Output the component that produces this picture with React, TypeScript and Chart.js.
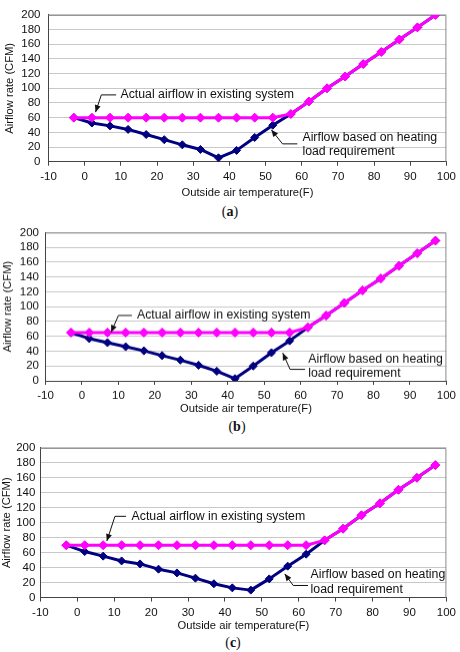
import React, { useEffect, useRef } from "react";
import { Chart, registerables } from "chart.js";

Chart.register(...registerables);

// Outside air temperature (°F) at which each airflow value was computed
const temperatures = [-3, 2, 7, 12, 17, 22, 27, 32, 37, 42, 47, 52, 57, 62, 67, 72, 77, 82, 87, 92, 97];

const xTicks = [-10, 0, 10, 20, 30, 40, 50, 60, 70, 80, 90, 100];
const yTicks = [0, 20, 40, 60, 80, 100, 120, 140, 160, 180, 200];

// Case (a)
const actualA = [60, 60, 60, 60, 60, 60, 60, 60, 60, 60, 60, 60, 65, 82, 100, 116, 133, 149.5, 166.5, 183, 200];
const requiredA = [60, 52.7, 48.8, 44, 37, 30, 23, 16.7, 5.3, 15.4, 33, 49.7, 65, 82, 100, 116, 133, 149.5, 166.5, 183, 200];

// Case (b)
const actualB = [65, 65, 65, 65, 65, 65, 65, 65, 65, 65, 65, 65, 65, 72, 88, 105, 122, 138, 155, 172, 189];
const requiredB = [65, 57, 51.5, 46, 40.5, 34, 28, 21, 13, 3, 20, 38, 54, 72, 88, 105, 122, 138, 155, 172, 189];

// Case (c)
const actualC = [70, 70, 70, 70, 70, 70, 70, 70, 70, 70, 70, 70, 70, 70, 76.5, 92, 110, 126, 144, 160, 177];
const requiredC = [70, 61.5, 55.4, 49, 45, 38, 33, 26, 18.5, 13, 10, 25, 42, 58, 76.5, 92, 110, 126, 144, 160, 177];

const actualLabel = "Actual airflow in existing system";
const requiredLabel = ["Airflow based on heating", "load requirement"];

type Pt = [number, number];
type Note = { lines: string[]; at: Pt; arrow: Pt[] };

type PanelSpec = {
  caption: string;
  actual: number[];
  required: number[];
  notes: Note[];
  // layout (px)
  top: number;
  height: number;
  axisLeft: number;
  rightPad: number;
  xAxisHeight: number;
  yLabelPad: number;
  yTitlePad: number;
  captionTop: number;
  captionX: number;
};

const FONT = "'Liberation Sans', Arial, sans-serif";

const panels: PanelSpec[] = [
  {
    caption: "a",
    actual: actualA,
    required: requiredA,
    notes: [
      { lines: [actualLabel], at: [9.9, 91], arrow: [[8.7, 91], [4.6, 91], [3.0, 67.5]] },
      { lines: requiredLabel, at: [60.2, 33], arrow: [[58.8, 24.3], [54.7, 24.3], [51.6, 43.5]] },
    ],
    top: 0,
    height: 200,
    axisLeft: 48.5,
    rightPad: 13.3,
    xAxisHeight: 38.3,
    yLabelPad: 8,
    yTitlePad: 3.3,
    captionTop: 212,
    captionX: 230,
  },
  {
    caption: "b",
    actual: actualB,
    required: requiredB,
    notes: [
      { lines: [actualLabel], at: [15.1, 88.1], arrow: [[13.7, 88.1], [10.0, 88.1], [8.0, 65.5]] },
      { lines: requiredLabel, at: [62.1, 29.6], arrow: [[61.2, 15.5], [57.1, 15.5], [55.1, 37.5]] },
    ],
    top: 219.3,
    height: 196.4,
    axisLeft: 45.5,
    rightPad: 13.3,
    xAxisHeight: 35,
    yLabelPad: 6.5,
    yTitlePad: 1.6,
    captionTop: 426.7,
    captionX: 237,
  },
  {
    caption: "c",
    actual: actualC,
    required: requiredC,
    notes: [
      { lines: [actualLabel], at: [14.7, 108.6], arrow: [[13.2, 108.6], [10.2, 108.6], [8.0, 75.6]] },
      { lines: requiredLabel, at: [63.2, 30.7], arrow: [[62.5, 16.2], [58.5, 16.2], [56.2, 31.7]] },
    ],
    top: 435.7,
    height: 197,
    axisLeft: 40.4,
    rightPad: 13.3,
    xAxisHeight: 35.4,
    yLabelPad: 5,
    yTitlePad: 0,
    captionTop: 643,
    captionX: 233,
  },
];

// Grey frame on the top and right of the plot area
const framePlugin = {
  id: "frame",
  beforeDatasetsDraw(chart: any) {
    const { ctx, chartArea: a } = chart;
    ctx.save();
    ctx.strokeStyle = "#8a8a8a";
    ctx.lineWidth = 1;
    ctx.beginPath();
    ctx.moveTo(a.left, a.top + 0.5);
    ctx.lineTo(a.right - 0.5, a.top + 0.5);
    ctx.lineTo(a.right - 0.5, a.bottom);
    ctx.stroke();
    ctx.restore();
  },
};

// Callout labels with bent leader arrows, positioned in data units
const notesPlugin = {
  id: "notes",
  afterDatasetsDraw(chart: any, _args: any, opts: any) {
    const notes: Note[] = opts.items || [];
    const { ctx, scales } = chart;
    const sx = (v: number) => scales.x.getPixelForValue(v);
    const sy = (v: number) => scales.y.getPixelForValue(v);
    ctx.save();
    ctx.fillStyle = "#111";
    ctx.font = `12.3px ${FONT}`;
    ctx.textAlign = "left";
    ctx.textBaseline = "middle";
    for (const n of notes) {
      const x0 = sx(n.at[0]);
      const y0 = sy(n.at[1]);
      n.lines.forEach((line, i) => ctx.fillText(line, x0, y0 + i * 14.5));

      const pts = n.arrow.map(([t, v]) => [sx(t), sy(v)]);
      ctx.strokeStyle = "#111";
      ctx.lineWidth = 1;
      ctx.beginPath();
      pts.forEach(([px, py], i) => (i ? ctx.lineTo(px, py) : ctx.moveTo(px, py)));
      ctx.stroke();

      const [tx, ty] = pts[pts.length - 1];
      const [fx, fy] = pts[pts.length - 2];
      const ang = Math.atan2(ty - fy, tx - fx);
      const len = 7;
      const wid = 3;
      ctx.beginPath();
      ctx.moveTo(tx, ty);
      ctx.lineTo(tx - len * Math.cos(ang) + wid * Math.sin(ang), ty - len * Math.sin(ang) - wid * Math.cos(ang));
      ctx.lineTo(tx - len * Math.cos(ang) - wid * Math.sin(ang), ty - len * Math.sin(ang) + wid * Math.cos(ang));
      ctx.closePath();
      ctx.fillStyle = "#111";
      ctx.fill();
    }
    ctx.restore();
  },
};

function Panel({ spec }: { spec: PanelSpec }) {
  const ref = useRef<HTMLCanvasElement>(null);

  useEffect(() => {
    if (!ref.current) return;
    const toPoints = (vals: number[]) => temperatures.map((t, i) => ({ x: t, y: vals[i] }));
    const chart = new Chart(ref.current, {
      type: "line",
      data: {
        datasets: [
          {
            label: "Actual airflow",
            data: toPoints(spec.actual),
            borderColor: "#ff00ff",
            backgroundColor: "#ff00ff",
            borderWidth: 3,
            pointStyle: "rectRot",
            pointRadius: 4.5,
            pointBorderWidth: 1,
            pointBorderColor: "#ff00ff",
            borderJoinStyle: "round",
            order: 0,
          },
          {
            label: "Required airflow",
            data: toPoints(spec.required),
            borderColor: "#000080",
            backgroundColor: "#000080",
            borderWidth: 3,
            pointStyle: "rectRot",
            pointRadius: 4,
            pointBorderWidth: 1,
            pointBorderColor: "#000080",
            borderJoinStyle: "round",
            order: 1,
          },
        ],
      },
      options: {
        animation: false,
        responsive: false,
        maintainAspectRatio: false,
        layout: { padding: { left: 0, right: spec.rightPad, top: 10, bottom: 0 } },
        plugins: {
          legend: { display: false },
          tooltip: { enabled: false },
          notes: { items: spec.notes },
        } as any,
        scales: {
          x: {
            type: "linear",
            min: -10,
            max: 100,
            afterBuildTicks: (s: any) => {
              s.ticks = xTicks.map((v) => ({ value: v }));
            },
            afterFit: (s: any) => {
              s.height = spec.xAxisHeight;
            },
            ticks: {
              color: "#111",
              font: { family: FONT, size: 11.5 },
              padding: 4,
              maxRotation: 0,
              autoSkip: false,
            },
            grid: { drawOnChartArea: false, drawTicks: true, tickLength: 4, color: "#444" },
            border: { color: "#444", width: 1 },
            title: {
              display: true,
              text: "Outside air temperature(F)",
              color: "#111",
              font: { family: FONT, size: 11.2 },
              padding: { top: 0, bottom: 0 },
            },
          },
          y: {
            type: "linear",
            min: 0,
            max: 200,
            afterBuildTicks: (s: any) => {
              s.ticks = yTicks.map((v) => ({ value: v }));
            },
            afterFit: (s: any) => {
              s.width = spec.axisLeft;
            },
            ticks: {
              color: "#111",
              font: { family: FONT, size: 11.5 },
              padding: spec.yLabelPad,
              autoSkip: false,
            },
            grid: { color: "#c8c8c8", drawTicks: false, lineWidth: 1 },
            border: { color: "#444", width: 1 },
            title: {
              display: true,
              text: "Airflow rate (CFM)",
              color: "#111",
              font: { family: FONT, size: 11.2 },
              padding: { top: spec.yTitlePad, bottom: 0 },
            },
          },
        },
      },
      plugins: [framePlugin, notesPlugin],
    } as any);
    return () => chart.destroy();
  }, [spec]);

  return (
    <>
      <canvas
        ref={ref}
        width={460}
        height={spec.height}
        style={{ position: "absolute", left: 0, top: spec.top, width: 460, height: spec.height }}
      />
      <div
        style={{
          position: "absolute",
          left: spec.captionX - 30,
          width: 60,
          top: spec.captionTop - 9,
          height: 18,
          lineHeight: "18px",
          textAlign: "center",
          fontFamily: "'Liberation Serif', 'DejaVu Serif', serif",
          fontSize: 14,
          color: "#111",
        }}
      >
        (<b>{spec.caption}</b>)
      </div>
    </>
  );
}

export default function App() {
  return (
    <div style={{ position: "absolute", left: 0, top: 0, width: 460, height: 652, background: "#fff" }}>
      {panels.map((p) => (
        <Panel key={p.caption} spec={p} />
      ))}
    </div>
  );
}
